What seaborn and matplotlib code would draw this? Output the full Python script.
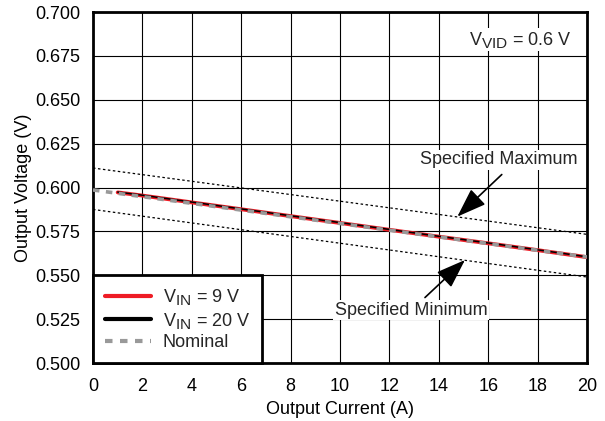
import numpy as np
import pandas as pd
import matplotlib
matplotlib.use("Agg")
import matplotlib.pyplot as plt
import matplotlib._mathtext as _mt
import seaborn as sns

# ---- data ----
current_meas = [1, 2, 4, 6, 8, 10, 12, 14, 16, 18, 20]
vout_vin9 = [0.5972, 0.5954, 0.5915, 0.5876, 0.5837, 0.5798, 0.5759, 0.5720, 0.5682, 0.5643, 0.5603]
vout_vin20 = [0.5974, 0.5956, 0.5917, 0.5878, 0.5839, 0.5800, 0.5761, 0.5722, 0.5684, 0.5645, 0.5605]
current_ref = [0, 20]
vout_nominal = [0.5986, 0.5604]
vout_spec_max = [0.6111, 0.5733]
vout_spec_min = [0.5875, 0.5490]

x_ticks = [0, 2, 4, 6, 8, 10, 12, 14, 16, 18, 20]
y_ticks = [0.500, 0.525, 0.550, 0.575, 0.600, 0.625, 0.650, 0.675, 0.700]

sns.set_theme(style="white")
plt.rcParams['font.family'] = ['Liberation Sans', 'DejaVu Sans']
plt.rcParams['mathtext.fontset'] = 'custom'
plt.rcParams['mathtext.rm'] = 'Liberation Sans'
plt.rcParams['mathtext.it'] = 'Liberation Sans:italic'
try:
    _mt.SHRINK_FACTOR = 0.85
except Exception:
    pass

FS = 13

fig = plt.figure(figsize=(6.05, 4.21), dpi=100)
ax = fig.add_axes([93/605, 1-363/421, (587-93)/605, (363-12)/421])

df_meas = pd.DataFrame({"I": current_meas, "v9": vout_vin9, "v20": vout_vin20})
df_ref = pd.DataFrame({"I": current_ref, "nom": vout_nominal,
                       "smax": vout_spec_max, "smin": vout_spec_min})

for col in ["smax", "smin"]:
    sns.lineplot(data=df_ref, x="I", y=col, ax=ax, color="black", lw=0.9,
                 linestyle=(0, (2, 2)), zorder=3)

sns.lineplot(data=df_meas, x="I", y="v9", ax=ax, color="#ee1c25", lw=2.8,
             label=r"$\mathregular{V_{IN}}$ = 9 V", zorder=4)
sns.lineplot(data=df_meas, x="I", y="v20", ax=ax, color="black", lw=1.1,
             label=r"$\mathregular{V_{IN}}$ = 20 V", zorder=4)
sns.lineplot(data=df_ref, x="I", y="nom", ax=ax, color="#999999", lw=2.6,
             linestyle=(0, (1.8, 1.8)), label="Nominal", zorder=5)

ax.set_xlim(0, 20)
ax.set_ylim(0.5, 0.7)
ax.set_xticks(x_ticks)
ax.set_yticks(y_ticks)
ax.set_xticklabels([str(t) for t in x_ticks])
ax.set_yticklabels([f"{t:.3f}" for t in y_ticks])
ax.tick_params(axis='x', labelsize=FS, length=0, pad=11, colors='black')
ax.tick_params(axis='y', labelsize=FS, length=0, pad=9, colors='black')
ax.grid(True, color='black', lw=0.8)
for s in ax.spines.values():
    s.set_color('black')
    s.set_linewidth(2)
ax.set_xlabel("Output Current (A)", fontsize=FS, labelpad=4, color='black')
ax.set_ylabel("Output Voltage (V)", fontsize=FS, labelpad=2, color='black')

ax.text(17.29, 0.6841, r"$\mathregular{V_{VID}}$ = 0.6 V", fontsize=FS,
        ha='center', va='center', zorder=6,
        bbox=dict(facecolor='white', edgecolor='none', pad=1))

ax.annotate("", xy=(14.75, 0.5834), xytext=(16.55, 0.6074),
            arrowprops=dict(arrowstyle='-|>,head_length=0.7,head_width=0.25',
                            color='black', lw=1.2,
                            mutation_scale=26, shrinkA=0, shrinkB=0), zorder=6)
ax.annotate("", xy=(15.06, 0.5587), xytext=(13.44, 0.5373),
            arrowprops=dict(arrowstyle='-|>,head_length=0.7,head_width=0.25',
                            color='black', lw=1.2,
                            mutation_scale=26, shrinkA=0, shrinkB=0), zorder=6)
ax.text(16.44, 0.6159, "Specified Maximum", fontsize=FS, ha='center', va='center',
        zorder=7, bbox=dict(facecolor='white', edgecolor='none', pad=1))
ax.text(12.87, 0.5301, "Specified Minimum", fontsize=FS, ha='center', va='center',
        zorder=7, bbox=dict(facecolor='white', edgecolor='none', pad=1))

leg = ax.legend(loc='lower left', borderaxespad=0, fontsize=FS, frameon=True,
                fancybox=False, handlelength=2.55, labelspacing=0.2,
                borderpad=0.65, handletextpad=0.65)
leg.get_frame().set_edgecolor('black')
leg.get_frame().set_linewidth(2)
leg.get_frame().set_facecolor('white')
leg.get_frame().set_alpha(1)
leg.set_zorder(10)
for line in leg.get_lines():
    line.set_linewidth(3)

fig.savefig("out.png", dpi=100)
